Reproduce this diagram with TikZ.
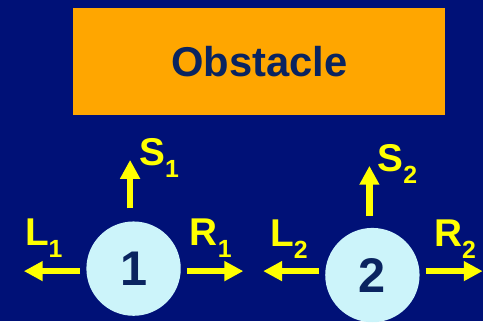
\documentclass[tikz,border=0pt]{standalone}
\usepackage{fontspec}
\setmainfont{Liberation Sans}
\usetikzlibrary{arrows.meta}
\definecolor{bgNavy}{RGB}{0,17,119}
\definecolor{obsOrange}{RGB}{255,166,0}
\definecolor{txtNavy}{RGB}{10,36,96}
\definecolor{botFill}{RGB}{204,244,250}
\definecolor{arrYellow}{RGB}{255,255,0}
\newcommand{\idx}[2]{#1\raisebox{-12pt}{\fontsize{25}{25}\selectfont #2}}

\begin{document}
\begin{tikzpicture}[x=1pt, y=-1pt,
    obst/.style={rectangle, fill=obsOrange, minimum width=374pt, minimum height=108pt, inner sep=0pt, text=txtNavy, font=\fontsize{42}{42}\selectfont\bfseries},
    bot/.style={circle, fill=botFill, minimum size=95pt, inner sep=0pt, text=txtNavy, font=\fontsize{49}{49}\selectfont\bfseries},
    arr/.style={-{Triangle[length=19pt, width=19pt]}, line width=6.8pt, draw=arrYellow},
    lbl/.style={anchor=base west, inner sep=0pt, text=arrYellow, font=\fontsize{39}{39}\selectfont\bfseries},
]

% background
\fill[bgNavy] (0,0) rectangle (486,323);

% ========== obstacle ==========
\node[obst] at (261,62) (obstacle) {Obstacle};

% ========== robots ==========
\node[bot] at (134.5,270.5) (bot1) {1};
\node[bot] at (375,277) (bot2) {2};

% arrow tips
\coordinate (l1tip) at (24,273);
\coordinate (r1tip) at (245,273);
\coordinate (s1tip) at (131,161);
\coordinate (l2tip) at (265,273);
\coordinate (r2tip) at (486,273);
\coordinate (s2tip) at (372,167);

% robot 1
\draw[arr] ([xshift=-6pt, yshift=-2.5pt]bot1.west) -- (l1tip);
\draw[arr] ([xshift=6pt, yshift=-2.5pt]bot1.east) -- (r1tip);
\draw[arr] ([xshift=-3.5pt, yshift=13pt]bot1.north) -- (s1tip);
\node[lbl] at (25,247) (l1) {\idx{L}{1}};
\node[lbl] at (191,247) (r1) {\idx{R}{1}};
\node[lbl] at (140,167) (s1) {\idx{S}{1}};

% robot 2
\draw[arr] ([xshift=-6pt, yshift=4pt]bot2.west) -- (l2tip);
\draw[arr] ([xshift=6pt, yshift=4pt]bot2.east) -- (r2tip);
\draw[arr] ([xshift=-3pt, yshift=12pt]bot2.north) -- (s2tip);
\node[lbl] at (272,248) (l2) {\idx{L}{2}};
\node[lbl] at (437,248) (r2) {\idx{R}{2}};
\node[lbl] at (380,173) (s2) {\idx{S}{2}};

\useasboundingbox (0,0) rectangle (486,323);
\end{tikzpicture}
\end{document}
